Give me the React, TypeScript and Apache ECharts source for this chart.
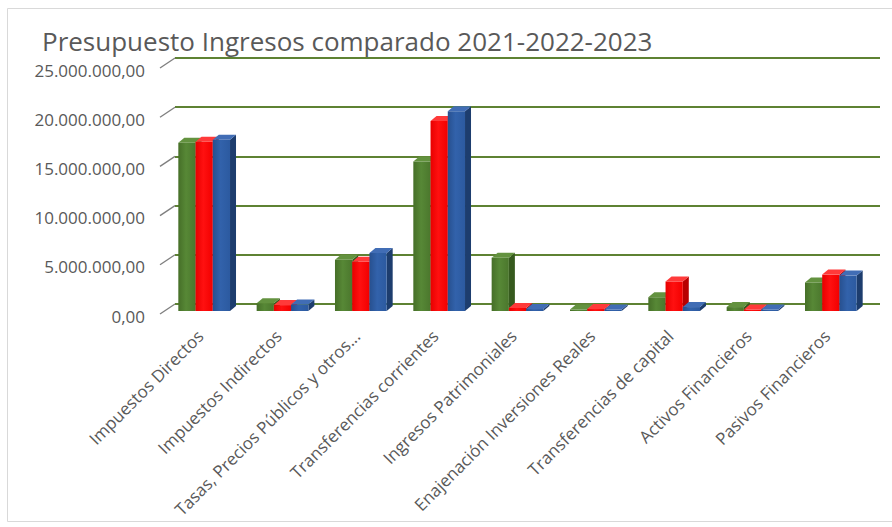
import React, { useEffect, useRef } from 'react';
import * as echarts from 'echarts';

const titleText = 'Presupuesto Ingresos comparado 2021-2022-2023';
const categories = [
  'Impuestos Directos',
  'Impuestos Indirectos',
  'Tasas, Precios Públicos y otros...',
  'Transferencias corrientes',
  'Ingresos Patrimoniales',
  'Enajenación Inversiones Reales',
  'Transferencias de capital',
  'Activos Financieros',
  'Pasivos Financieros',
];
const years = ['2021', '2022', '2023'];
const values2021 = [17100000, 800000, 5200000, 15200000, 5400000, 150000, 1400000, 400000, 2900000];
const values2022 = [17200000, 600000, 5000000, 19300000, 300000, 200000, 3000000, 150000, 3700000];
const values2023 = [17400000, 650000, 5900000, 20300000, 200000, 150000, 400000, 150000, 3600000];
const yTicks = [0, 5000000, 10000000, 15000000, 20000000, 25000000];

const palettes = [
  { front: ['#466f28', '#578836', '#4b772d'], top: '#63923f', side: '#365a1e' },
  { front: ['#e80000', '#ff1010', '#f20000'], top: '#ff3a3a', side: '#b80000' },
  { front: ['#27508f', '#3262ab', '#2c5aa0'], top: '#416db5', side: '#1d3d6e' },
];

function fmtEs(v: number): string {
  const s = Math.round(v).toString().replace(/\B(?=(\d{3})+(?!\d))/g, '.');
  return s + ',00';
}

const DX = 6; // bar depth x
const DY = -5; // bar depth y
const SHIFT_X = -10; // front plane shift
const SHIFT_Y = 7;

function barSeries(idx: number, name: string, values: number[]) {
  const pal = palettes[idx];
  return {
    type: 'custom',
    name,
    xAxisIndex: 0,
    yAxisIndex: 0,
    data: values.map((v, i) => [i, v]),
    renderItem: (params: any, api: any) => {
      const cat = api.value(0);
      const val = api.value(1);
      const base = api.coord([cat, 0]);
      const top = api.coord([cat, val]);
      const catW = api.size([1, 0])[0];
      const bw = catW * 0.22;
      const cx = base[0] + SHIFT_X + (idx - 1) * bw;
      const x0 = cx - bw / 2;
      const x1 = cx + bw / 2;
      const yb = base[1] + SHIFT_Y;
      const yt = top[1] + SHIFT_Y;
      return {
        type: 'group',
        children: [
          {
            type: 'polygon',
            shape: { points: [[x1, yt], [x1 + DX, yt + DY], [x1 + DX, yb + DY], [x1, yb]] },
            style: { fill: pal.side },
          },
          {
            type: 'rect',
            shape: { x: x0, y: yt, width: bw, height: Math.max(yb - yt, 0.5) },
            style: {
              fill: new echarts.graphic.LinearGradient(0, 0, 1, 0, [
                { offset: 0, color: pal.front[0] },
                { offset: 0.45, color: pal.front[1] },
                { offset: 1, color: pal.front[2] },
              ]),
            },
          },
          {
            type: 'polygon',
            shape: { points: [[x0, yt], [x1, yt], [x1 + DX, yt + DY], [x0 + DX, yt + DY]] },
            style: { fill: pal.top },
          },
        ],
      };
    },
  };
}

export default function App() {
  const ref = useRef<HTMLDivElement>(null);
  useEffect(() => {
    if (!ref.current) return;
    const chart = echarts.init(ref.current, undefined, { renderer: 'svg' });
    chart.setOption({
      animation: false,
      backgroundColor: '#ffffff',
      title: {
        text: titleText,
        left: 37,
        top: 23,
        textStyle: { fontFamily: 'Open Sans', fontSize: 26, fontWeight: 'normal', color: '#595959' },
      },
      graphic: [
        {
          type: 'rect',
          shape: { x: 7.5, y: 8.5, width: 890, height: 513 },
          style: { fill: 'none', stroke: '#d9d9d9', lineWidth: 1 },
          silent: true,
        },
      ],
      grid: [
        { left: 175, right: 12, top: 58, height: 246 },
        { left: 161, right: 26, top: 70, height: 246 },
      ],
      xAxis: [
        {
          type: 'category',
          gridIndex: 0,
          data: categories,
          axisLine: { show: false },
          axisTick: { show: false },
          axisLabel: { show: false },
        },
        {
          type: 'category',
          gridIndex: 1,
          data: categories,
          axisLine: { show: false },
          axisTick: { show: false },
          axisLabel: {
            rotate: 45,
            interval: 0,
            margin: 17,
            fontFamily: 'Open Sans',
            fontSize: 17,
            color: '#595959',
          },
        },
      ],
      yAxis: [
        {
          type: 'value',
          gridIndex: 0,
          min: 0,
          max: 25000000,
          interval: 5000000,
          axisLabel: { show: false },
          axisLine: { show: false },
          axisTick: { show: false },
          splitLine: { lineStyle: { color: '#5e8233', width: 1.8 } },
        },
        {
          type: 'value',
          gridIndex: 1,
          min: 0,
          max: 25000000,
          interval: 5000000,
          axisLine: { show: false },
          axisTick: { show: false },
          splitLine: { show: false },
          axisLabel: {
            margin: 16,
            fontFamily: 'Open Sans',
            fontSize: 17,
            color: '#595959',
            formatter: (v: number) => fmtEs(v),
          },
        },
      ],
      series: [
        {
          type: 'custom',
          name: 'ticks',
          xAxisIndex: 0,
          yAxisIndex: 0,
          data: yTicks.map((v) => [0, v]),
          renderItem: (params: any, api: any) => {
            const y = api.coord([0, api.value(1)])[1];
            const x = params.coordSys.x;
            return {
              type: 'line',
              shape: { x1: x - 15, y1: y + 10, x2: x, y2: y },
              style: { stroke: '#7f7f7f', lineWidth: 1.3 },
            };
          },
        },
        barSeries(0, years[0], values2021),
        barSeries(1, years[1], values2022),
        barSeries(2, years[2], values2023),
      ],
    });
    return () => chart.dispose();
  }, []);
  return (
    <div
      ref={ref}
      style={{ position: 'fixed', left: 0, top: 0, width: 892, height: 527 }}
    />
  );
}
